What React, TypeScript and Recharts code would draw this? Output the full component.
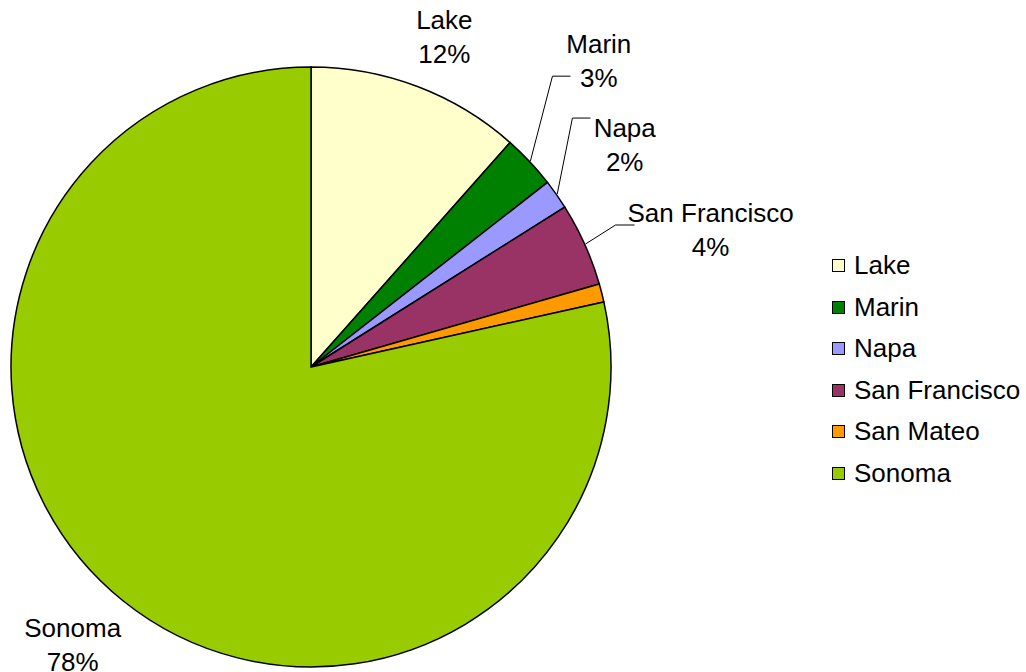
import React from 'react';
import { PieChart, Pie, Cell, Legend } from 'recharts';

const counties = ['Lake', 'Marin', 'Napa', 'San Francisco', 'San Mateo', 'Sonoma'];
const shares = [11.55, 2.9, 1.6, 4.49, 0.98, 78.48];
const colors = ['#FFFFCC', '#008000', '#9999FF', '#993366', '#FF9900', '#99CC00'];

const data = counties.map((name, i) => ({ name, value: shares[i] }));

const RAD = Math.PI / 180;
const FONT = '"Liberation Sans", Arial, sans-serif';

// where each label sits: polar angle / radius from the pie centre, and leader (if any)
const labelSpots: Record<number, { a: number; r: number; leader?: { a: number; r: number; len: number } }> = {
  0: { a: 68.45, r: 363 },
  1: { a: 47.5, r: 426, leader: { a: 50.3, r: 378, len: 18 } },
  2: { a: 36.25, r: 389, leader: { a: 43.6, r: 361, len: 18 } },
  3: { a: 19.9, r: 425, leader: { a: 25.0, r: 336, len: 19 } },
  5: { a: -131.45, r: 360 },
};

const renderLabel = (props: any) => {
  const { cx, cy, midAngle, outerRadius, index, percent, name } = props;
  const spot = labelSpots[index];
  if (!spot) return null;
  const x = cx + spot.r * Math.cos(spot.a * RAD);
  const y = cy - spot.r * Math.sin(spot.a * RAD);
  let leader = null;
  if (spot.leader) {
    const sx = cx + (outerRadius + 1) * Math.cos(midAngle * RAD);
    const sy = cy - (outerRadius + 1) * Math.sin(midAngle * RAD);
    const ex = cx + spot.leader.r * Math.cos(spot.leader.a * RAD);
    const ey = cy - spot.leader.r * Math.sin(spot.leader.a * RAD);
    leader = (
      <polyline
        points={`${sx},${sy} ${ex},${ey} ${ex + spot.leader.len},${ey}`}
        fill="none"
        stroke="#000"
        strokeWidth={1}
      />
    );
  }
  return (
    <g>
      {leader}
      <text x={x} y={y} textAnchor="middle" fill="#000" fontSize={26} fontFamily={FONT}>
        <tspan x={x}>{name}</tspan>
        <tspan x={x} dy={34}>{`${Math.round(percent * 100)}%`}</tspan>
      </text>
    </g>
  );
};

const renderLegend = () => (
  <div style={{ fontFamily: FONT, fontSize: 26, color: '#000' }}>
    {counties.map((c, i) => (
      <div key={c} style={{ height: 41.5, display: 'flex', alignItems: 'center' }}>
        <span
          style={{
            display: 'inline-block',
            width: 11,
            height: 11,
            background: colors[i],
            border: '1.5px solid #000',
            marginRight: 9,
          }}
        />
        <span>{c}</span>
      </div>
    ))}
  </div>
);

export default function App() {
  return (
    <div style={{ position: 'absolute', left: 0, top: 0, width: 1026, height: 672, background: '#fff' }}>
      <PieChart width={1026} height={672} margin={{ top: 0, right: 0, bottom: 0, left: 0 }}>
        <Pie
          data={data}
          dataKey="value"
          nameKey="name"
          cx={311}
          cy={367}
          outerRadius={300}
          startAngle={90}
          endAngle={-270}
          stroke="#000"
          strokeWidth={1.5}
          label={renderLabel}
          labelLine={false}
          isAnimationActive={false}
        >
          {data.map((d, i) => (
            <Cell key={d.name} fill={colors[i]} />
          ))}
        </Pie>
        <Legend
          content={renderLegend}
          layout="vertical"
          verticalAlign="middle"
          align="right"
          wrapperStyle={{ left: 832, top: 245, width: 200 }}
        />
      </PieChart>
    </div>
  );
}
